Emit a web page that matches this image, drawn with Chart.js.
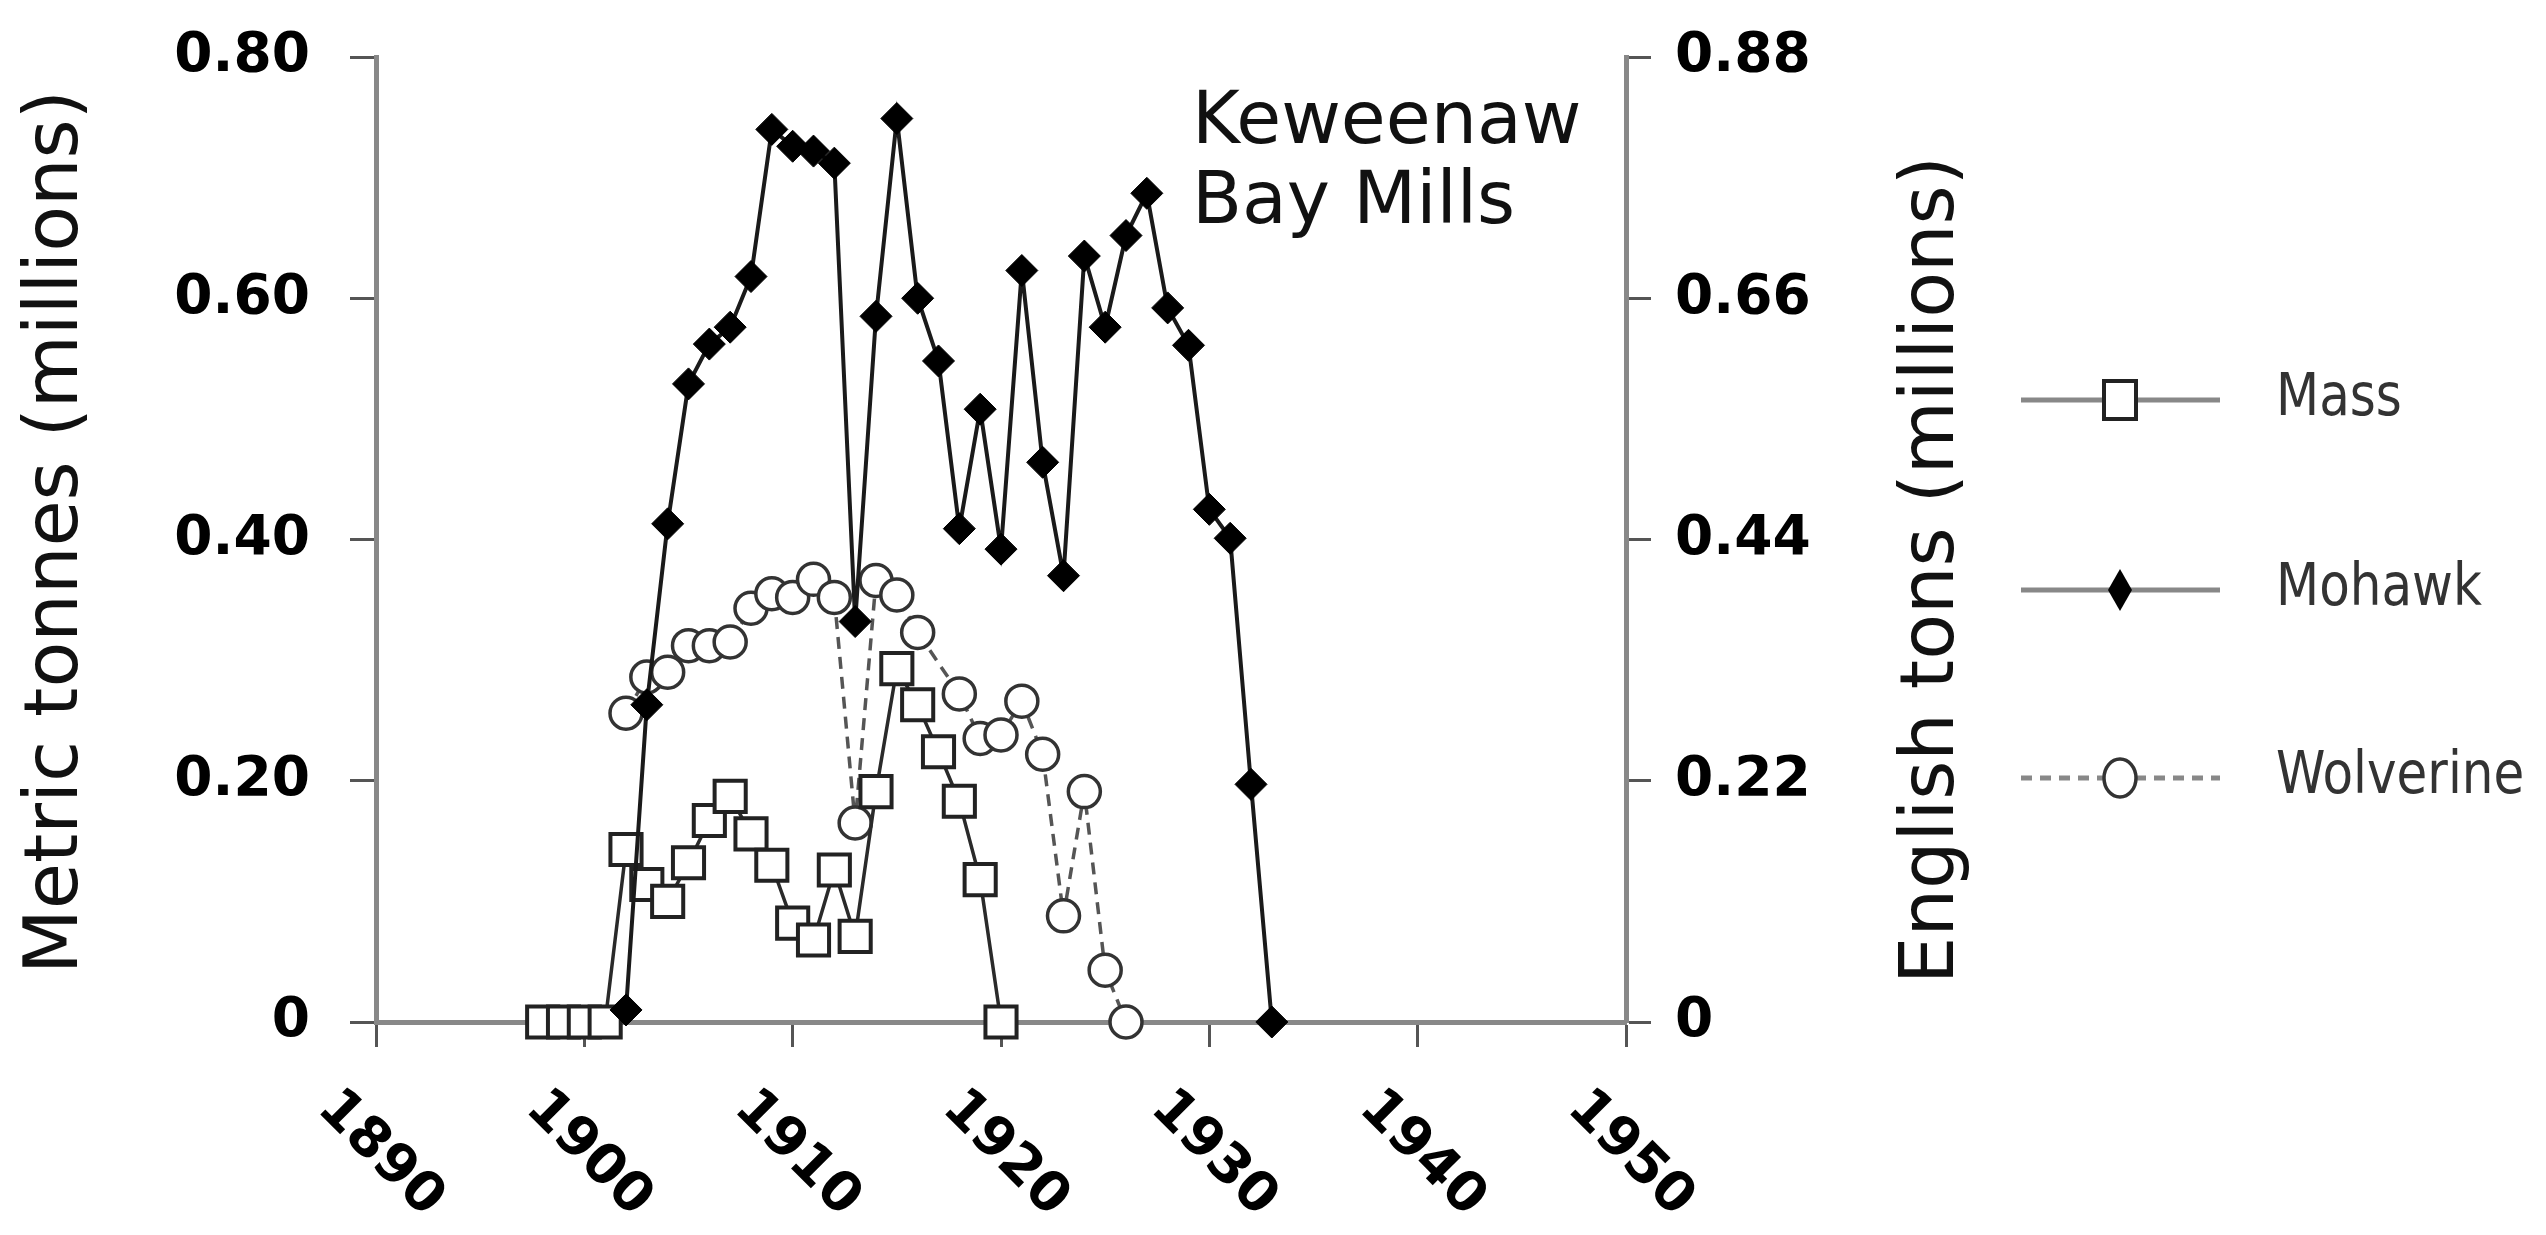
<!DOCTYPE html>
<html>
<head>
<meta charset="utf-8">
<title>Keweenaw Bay Mills</title>
<script src="https://cdn.jsdelivr.net/npm/chart.js@4.4.1/dist/chart.umd.min.js"></script>
<style>
  html, body { margin: 0; padding: 0; background: #fff; overflow: hidden; }
  #wrap { width: 2546px; height: 1235px; position: relative; }
</style>
</head>
<body>
<div id="wrap"><canvas id="millChart"></canvas></div>
<script>
// axis ticks
const xTicks = [1890, 1900, 1910, 1920, 1930, 1940, 1950];
const metricTicks = [0, 0.2, 0.4, 0.6, 0.8];
const englishTicks = [0, 0.22, 0.44, 0.66, 0.88];

// production, million metric tonnes
const massYears = [1898, 1899, 1900, 1901, 1902, 1903, 1904, 1905, 1906, 1907, 1908, 1909,
    1910, 1911, 1912, 1913, 1914, 1915, 1916, 1917, 1918, 1919, 1920];
const massValues = [0, 0, 0, 0, 0.143, 0.114, 0.100, 0.132, 0.167, 0.187, 0.156, 0.130,
    0.082, 0.068, 0.126, 0.071, 0.191, 0.293, 0.263, 0.224, 0.183, 0.118, 0];

const mohawkYears = [1902, 1903, 1904, 1905, 1906, 1907, 1908, 1909, 1910, 1911, 1912, 1913,
    1914, 1915, 1916, 1917, 1918, 1919, 1920, 1921, 1922, 1923, 1924, 1925, 1926, 1927,
    1928, 1929, 1930, 1931, 1932, 1933];
const mohawkValues = [0.010, 0.263, 0.413, 0.529, 0.562, 0.576, 0.618, 0.740, 0.726, 0.722, 0.712, 0.332,
    0.585, 0.749, 0.600, 0.548, 0.409, 0.508, 0.392, 0.623, 0.464, 0.370, 0.635, 0.576, 0.652, 0.687,
    0.592, 0.561, 0.425, 0.401, 0.197, 0];

const wolverineYears = [1902, 1903, 1904, 1905, 1906, 1907, 1908, 1909, 1910, 1911, 1912, 1913,
    1914, 1915, 1916, 1918, 1919, 1920, 1921, 1922, 1923, 1924, 1925, 1926];
const wolverineValues = [0.256, 0.286, 0.290, 0.312, 0.312, 0.315, 0.343, 0.355, 0.352, 0.367, 0.352, 0.165,
    0.366, 0.354, 0.323, 0.272, 0.235, 0.238, 0.266, 0.222, 0.088, 0.191, 0.043, 0];

const seriesNames = ['Mass', 'Mohawk', 'Wolverine'];

function toPoints(years, values) {
    return years.map((yr, i) => ({ x: yr, y: values[i] }));
}

function fmt(v) {
    return v === 0 ? '0' : v.toFixed(2);
}

function setTicks(list) {
    return function (scale) {
        scale.ticks = list.map(v => ({ value: v }));
    };
}

// fixed box width; drop the label overhang so the plot top stays where it is
function fixWidth(w) {
    return function (scale) {
        scale.width = w;
        scale.paddingTop = 0;
        scale.paddingBottom = 0;
    };
}

function drawVertical(ctx, text, x, y) {
    ctx.save();
    ctx.translate(x, y);
    ctx.rotate(-Math.PI / 2);
    ctx.textAlign = 'center';
    ctx.fillText(text, 0, 0);
    ctx.restore();
}

// labels, titles, note and legend that chart.js cannot place like the original
const decorPlugin = {
    id: 'decor',
    afterDraw(chart) {
        const ctx = chart.ctx;
        const area = chart.chartArea;
        const xs = chart.scales.x;
        ctx.save();
        ctx.fillStyle = '#000';

        // year labels, turned clockwise
        ctx.font = 'bold 55px "DejaVu Sans"';
        ctx.textAlign = 'center';
        ctx.textBaseline = 'middle';
        xTicks.forEach(v => {
            ctx.save();
            ctx.translate(xs.getPixelForValue(v) + 4, area.bottom + 132);
            ctx.rotate(Math.PI / 4);
            ctx.fillText(String(v), 0, 0);
            ctx.restore();
        });

        // axis titles
        ctx.fillStyle = '#111';
        ctx.font = '75px "DejaVu Sans"';
        ctx.textBaseline = 'alphabetic';
        drawVertical(ctx, 'Metric tonnes (millions)', 77, 532);
        drawVertical(ctx, 'English tons (millions)', 1953, 570);

        // note inside the plot
        ctx.textAlign = 'left';
        ctx.font = '73px "DejaVu Sans"';
        ctx.fillText('Keweenaw', 1192, 143);
        ctx.fillText('Bay Mills', 1192, 223);

        // legend
        const rows = [400, 590, 778];
        const mx = 2120;
        seriesNames.forEach((name, i) => {
            const y = rows[i];
            ctx.strokeStyle = '#888';
            ctx.lineWidth = 5;
            ctx.setLineDash(i === 2 ? [11, 8] : []);
            ctx.beginPath();
            ctx.moveTo(2021, y);
            ctx.lineTo(2220, y);
            ctx.stroke();
            ctx.setLineDash([]);

            ctx.beginPath();
            if (i === 0) {
                ctx.rect(mx - 16, y - 19, 32, 38);
                ctx.fillStyle = '#fff';
                ctx.fill();
                ctx.strokeStyle = '#222';
                ctx.lineWidth = 4;
                ctx.stroke();
            } else if (i === 1) {
                ctx.moveTo(mx, y - 21);
                ctx.lineTo(mx + 12, y);
                ctx.lineTo(mx, y + 21);
                ctx.lineTo(mx - 12, y);
                ctx.closePath();
                ctx.fillStyle = '#000';
                ctx.fill();
            } else {
                ctx.ellipse(mx, y, 16, 19, 0, 0, Math.PI * 2);
                ctx.fillStyle = '#fff';
                ctx.fill();
                ctx.strokeStyle = '#333';
                ctx.lineWidth = 3.5;
                ctx.stroke();
            }

            ctx.save();
            ctx.translate(2276, y);
            ctx.scale(1, 1.18);
            ctx.fillStyle = '#333';
            ctx.font = '50px "DejaVu Sans"';
            ctx.textAlign = 'left';
            ctx.textBaseline = 'middle';
            ctx.fillText(name, 0, 0);
            ctx.restore();
        });

        ctx.restore();
    }
};

Chart.defaults.font.family = '"DejaVu Sans"';

const millCtx = document.getElementById('millChart').getContext('2d');
new Chart(millCtx, {
    type: 'line',
    data: {
        datasets: [{
            label: seriesNames[1],
            data: toPoints(mohawkYears, mohawkValues),
            borderColor: '#1a1a1a',
            borderWidth: 4,
            pointStyle: 'rectRot',
            pointRadius: 16,
            pointBackgroundColor: '#000',
            pointBorderColor: '#000',
            pointBorderWidth: 1,
            order: 0,
            clip: false
        }, {
            label: seriesNames[0],
            data: toPoints(massYears, massValues),
            borderColor: '#2a2a2a',
            borderWidth: 3.5,
            pointStyle: 'rect',
            pointRadius: 22,
            pointBackgroundColor: '#fff',
            pointBorderColor: '#222',
            pointBorderWidth: 4,
            order: 1,
            clip: false
        }, {
            label: seriesNames[2],
            data: toPoints(wolverineYears, wolverineValues),
            borderColor: '#555',
            borderWidth: 3.5,
            borderDash: [12, 8],
            pointStyle: 'circle',
            pointRadius: 16,
            pointBackgroundColor: '#fff',
            pointBorderColor: '#333',
            pointBorderWidth: 3.5,
            order: 2,
            clip: false
        }]
    },
    options: {
        responsive: true,
        maintainAspectRatio: false,
        animation: false,
        events: [],
        layout: { padding: { top: 57, left: 0, right: 0, bottom: 0 } },
        plugins: {
            legend: { display: false },
            tooltip: { enabled: false }
        },
        scales: {
            x: {
                type: 'linear',
                position: 'bottom',
                min: 1890,
                max: 1950,
                afterBuildTicks: setTicks(xTicks),
                afterFit: s => { s.height = 213; },
                ticks: { display: false },
                grid: { drawOnChartArea: false, tickLength: 25, tickColor: '#555', tickWidth: 3 },
                border: { display: true, color: '#888', width: 5 }
            },
            y: {
                position: 'left',
                min: 0,
                max: 0.8,
                afterBuildTicks: setTicks(metricTicks),
                afterFit: fixWidth(376),
                ticks: {
                    callback: fmt,
                    color: '#000',
                    padding: 40,
                    font: { size: 55, weight: 'bold' }
                },
                grid: { drawOnChartArea: false, tickLength: 26, tickColor: '#555', tickWidth: 3 },
                border: { display: true, color: '#888', width: 5 }
            },
            y1: {
                position: 'right',
                min: 0,
                max: 0.88,
                afterBuildTicks: setTicks(englishTicks),
                afterFit: fixWidth(920),
                ticks: {
                    callback: fmt,
                    color: '#000',
                    padding: 24,
                    font: { size: 55, weight: 'bold' }
                },
                grid: { drawOnChartArea: false, tickLength: 25, tickColor: '#555', tickWidth: 3 },
                border: { display: true, color: '#888', width: 5 }
            }
        }
    },
    plugins: [decorPlugin]
});
</script>
</body>
</html>
